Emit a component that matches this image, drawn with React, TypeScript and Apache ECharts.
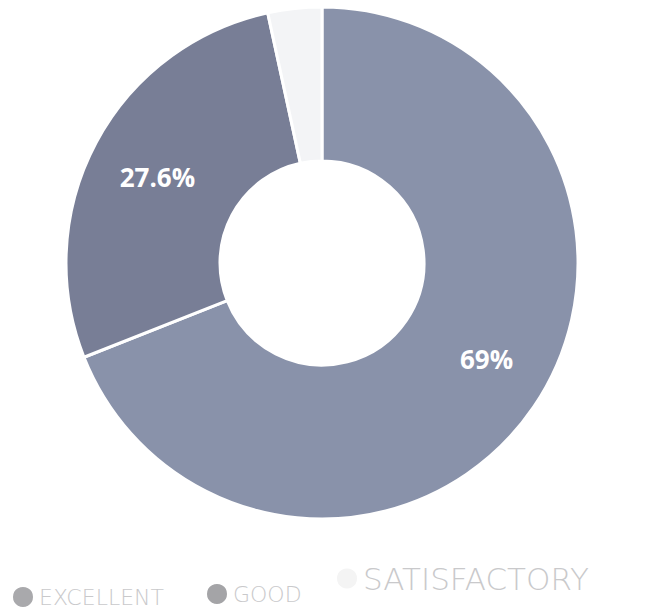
import React, { useEffect, useRef } from "react";
import * as echarts from "echarts";

const categories = ["EXCELLENT", "GOOD", "SATISFACTORY"];
const values = [69, 27.6, 3.4];
const sliceColors = ["#8992aa", "#787e96", "#f3f4f6"];
const legendIconColors = ["#a9a9ac", "#a4a4a7", "#f4f4f4"];

export default function App() {
  const ref = useRef<HTMLDivElement>(null);
  useEffect(() => {
    document.body.style.margin = "0";
    const chart = echarts.init(ref.current!, null, { renderer: "svg" });
    const legendText = { color: "#c9c9cb", fontFamily: "DejaVu Sans", fontWeight: 300 };
    chart.setOption({
      animation: false,
      backgroundColor: "#ffffff",
      legend: [
        {
          data: [{ name: categories[0], itemStyle: { color: legendIconColors[0] } }],
          left: 6, top: 580, icon: "circle", itemWidth: 22, itemHeight: 22, itemGap: 10,
          textStyle: { ...legendText, fontSize: 22 },
        },
        {
          data: [{ name: categories[1], itemStyle: { color: legendIconColors[1] } }],
          left: 200, top: 577, icon: "circle", itemWidth: 22, itemHeight: 22,
          textStyle: { ...legendText, fontSize: 22 },
        },
        {
          data: [{ name: categories[2], itemStyle: { color: legendIconColors[2] } }],
          left: 330, top: 558, icon: "circle", itemWidth: 22, itemHeight: 22,
          textStyle: { ...legendText, fontSize: 31 },
        },
      ],
      series: [
        {
          type: "pie",
          center: [322, 263],
          radius: [102, 256],
          startAngle: 90,
          clockwise: true,
          avoidLabelOverlap: false,
          itemStyle: { borderColor: "#ffffff", borderWidth: 3 },
          label: {
            show: true,
            position: "inside",
            color: "#ffffff",
            fontSize: 26,
            fontWeight: "bold",
            fontFamily: "Open Sans",
            formatter: (p: any) => (p.value > 10 ? `${p.percent}%` : ""),
          },
          labelLine: { show: false },
          emphasis: { disabled: true },
          data: categories.map((c, i) => ({
            name: c,
            value: values[i],
            itemStyle: { color: sliceColors[i] },
            label: i === 0 ? { offset: [14, -6] } : { offset: [-4, 0] },
          })),
        },
      ],
    });
    return () => chart.dispose();
  }, []);
  return <div ref={ref} style={{ width: 656, height: 615 }} />;
}
